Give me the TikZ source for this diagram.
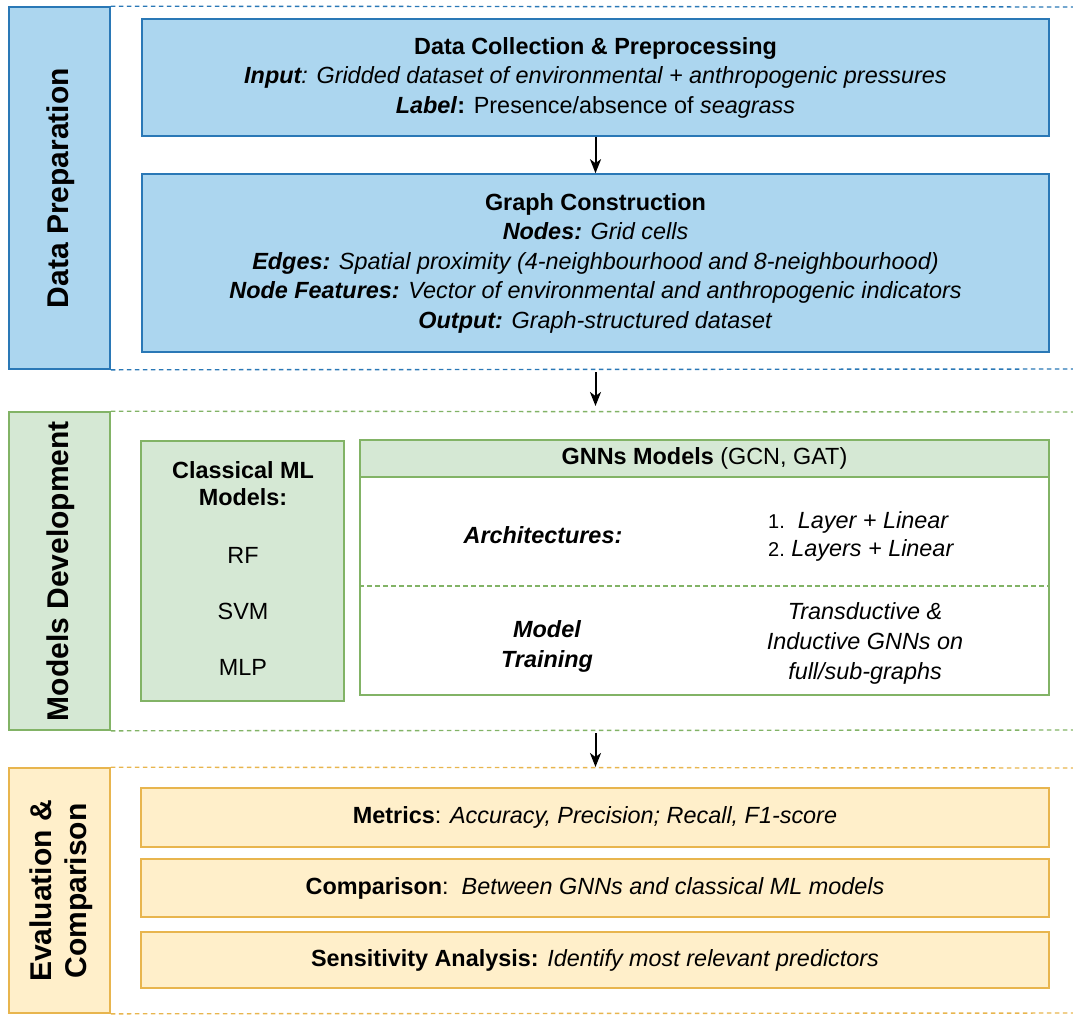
\documentclass[tikz,border=0pt]{standalone}
\usepackage{fontspec}
\setmainfont{Liberation Sans}
\usetikzlibrary{arrows.meta}
\definecolor{prepfill}{HTML}{ACD6EF}
\definecolor{prepdraw}{HTML}{2A78B6}
\definecolor{devfill}{HTML}{D5E8D4}
\definecolor{devdraw}{HTML}{82B366}
\definecolor{evalfill}{HTML}{FFEFCA}
\definecolor{evaldraw}{HTML}{E8B54E}
\newcommand{\boxfont}{\fontsize{23.4}{29.5}\selectfont}
\newcommand{\sidefont}{\fontsize{30}{35}\selectfont\bfseries}
\tikzset{
  sidebox/.style={draw,line width=1.6pt,minimum width=101pt,inner sep=0pt},
  sidelabel/.style={rotate=90,font=\sidefont,align=center},
  part/.style={draw,line width=1.6pt,inner sep=0pt,font=\boxfont,align=center},
  txt/.style={font=\boxfont,align=center,inner sep=0pt},
  sep/.style={line width=1.4pt,dash pattern=on 4.5pt off 3.5pt},
  flow/.style={->,line width=2pt}
}
\begin{document}
\begin{tikzpicture}[x=1pt,y=-1pt,>={Stealth[length=14pt,width=11pt,inset=4pt]}]
        \useasboundingbox(0,0)rectangle(1073,1015);
        % data preparation
        \node[sidebox,draw=prepdraw,fill=prepfill,minimum height=362pt](prep)at(59.5,188){};
        \node[sidelabel](preplabel)at(61,188){Data Preparation};
        \draw[sep,prepdraw](prep.north east)--(1073,7);
        \draw[sep,prepdraw](prep.south east)--(1073,369);
        \node[part,draw=prepdraw,fill=prepfill,minimum width=907pt,minimum height=117pt](collect)at(595.5,77.5)
            {\textbf{Data Collection \& Preprocessing}\\
             \textit{\textbf{Input}: Gridded dataset of environmental + anthropogenic pressures}\\
             \textbf{\textit{Label}:} Presence/absence of \textit{seagrass}};
        \node[part,draw=prepdraw,fill=prepfill,minimum width=907pt,minimum height=178pt](graph)at(595.5,263)
            {\textbf{Graph Construction}\\
             \textit{\textbf{Nodes:} Grid cells}\\
             \textit{\textbf{Edges:} Spatial proximity (4-neighbourhood and 8-neighbourhood)}\\
             \textit{\textbf{Node Features:} Vector of environmental and anthropogenic indicators}\\
             \textit{\textbf{Output:} Graph-structured dataset}};
        \draw[flow](collect)--(graph);
        \coordinate(a1)at(595.5,372);
        \coordinate(a2)at(595.5,406);
        \draw[flow](a1)--(a2);
        % models development
        \node[sidebox,draw=devdraw,fill=devfill,minimum height=318pt](dev)at(59.5,571){};
        \node[sidelabel](devlabel)at(61,571){Models Development};
        \draw[sep,devdraw](dev.north east)--(1073,412);
        \draw[sep,devdraw](dev.south east)--(1073,730);
        \node[part,draw=devdraw,fill=devfill,minimum width=203pt,minimum height=260pt](cml)at(242.5,571){};
        \node[txt,font=\fontsize{23.4}{27}\selectfont\bfseries](cmltitle)at(243,484){Classical ML\\Models:};
        \foreach \m/\y in {RF/555,SVM/611,MLP/667}
            \node[txt](\m)at(243,\y){\m};
        \node[part,draw=devdraw,fill=white,minimum width=689pt,minimum height=255pt](gnn)at(704.5,567.5){};
        \node[part,draw=devdraw,fill=devfill,minimum width=689pt,minimum height=37pt](gnnhead)at(704.5,458.5)
            {\textbf{GNNs Models} (GCN, GAT)};
        \draw[sep,devdraw](gnn.west|-0,586)--(gnn.east|-0,586);
        \node[txt,font=\boxfont\bfseries\itshape](arch)at(543,535){Architectures:};
        \node[txt,anchor=west,align=left,font=\fontsize{23.4}{28}\selectfont](archlist)at(768,536)
            {{\fontsize{20}{28}\selectfont 1.}\ \ \textit{Layer + Linear}\\
             {\fontsize{20}{28}\selectfont 2.}\ \textit{Layers + Linear}};
        \node[txt,font=\fontsize{23.4}{30}\selectfont\bfseries\itshape](train)at(547,646){Model\\Training};
        \node[txt,font=\fontsize{23.4}{30}\selectfont\itshape](trainnote)at(865,643)
            {Transductive \&\\Inductive GNNs on\\full/sub-graphs};
        \coordinate(a3)at(595.5,733);
        \coordinate(a4)at(595.5,767);
        \draw[flow](a3)--(a4);
        % evaluation and comparison
        \node[sidebox,draw=evaldraw,fill=evalfill,minimum height=245pt](eval)at(59.5,890.5){};
        \node[sidelabel](evallabel)at(61,891){Evaluation \&\\Comparison};
        \draw[sep,evaldraw](eval.north east)--(1073,768);
        \draw[sep,evaldraw](eval.south east)--(1073,1013);
        \node[part,draw=evaldraw,fill=evalfill,minimum width=908pt,minimum height=59pt](metrics)at(595,817.5)
            {\textbf{Metrics}: \textit{Accuracy, Precision; Recall, F1-score}};
        \node[part,draw=evaldraw,fill=evalfill,minimum width=908pt,minimum height=58pt](compare)at(595,888)
            {\textbf{Comparison}:\ \ \textit{Between GNNs and classical ML models}};
        \node[part,draw=evaldraw,fill=evalfill,minimum width=908pt,minimum height=56pt](sens)at(595,960)
            {\textbf{Sensitivity Analysis:} \textit{Identify most relevant predictors}};
    \end{tikzpicture}
\end{document}
